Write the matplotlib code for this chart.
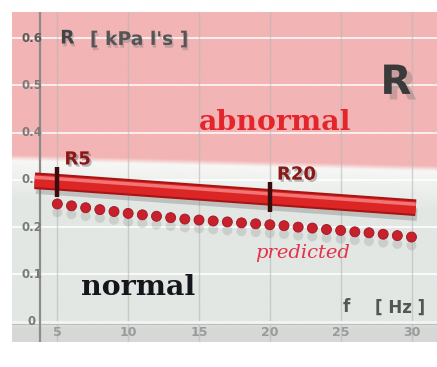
import matplotlib
matplotlib.use("Agg")
import matplotlib.pyplot as plt
import matplotlib.patheffects as pe
import numpy as np

# axis ticks
x_ticks = [5, 10, 15, 20, 25, 30]
y_ticks = [0.0, 0.1, 0.2, 0.3, 0.4, 0.5, 0.6]
y_tick_labels = ["0", "0.1", "0.2", "0.3", "0.4", "0.5", "0.6"]

# measured resistance R(f)
r_freq = [3.4, 5, 20, 30.3]
r_vals = [0.298, 0.295, 0.263, 0.241]
r_mark_freq = [5, 20]
r_mark_vals = [0.295, 0.263]
r_mark_names = ["R5", "R20"]

# predicted resistance, 1 Hz steps
pred_freq = list(range(5, 31))
pred_vals = [0.249, 0.245, 0.241, 0.237, 0.233, 0.229, 0.226, 0.223, 0.220,
             0.217, 0.215, 0.213, 0.211, 0.209, 0.207, 0.205, 0.203, 0.200,
             0.198, 0.195, 0.193, 0.190, 0.188, 0.185, 0.182, 0.179]

# upper limit of the normal range
limit_freq = [1.8, 31.8]
limit_vals = [0.345, 0.322]

XMIN, XMAX = 1.8, 31.8
YMIN, YMAX = -0.043, 0.655

fig = plt.figure(figsize=(4.37, 3.67), dpi=100, facecolor="white")
ax = fig.add_axes([12 / 437, 1 - 342 / 367, 425 / 437, 330 / 367])
ax.set_xlim(XMIN, XMAX)
ax.set_ylim(YMIN, YMAX)
ax.axis("off")

# background: pink abnormal zone, white transition, grey-green normal zone
nx, ny = 200, 300
gx = np.linspace(XMIN, XMAX, nx)
gy = np.linspace(YMIN, YMAX, ny)
GX, GY = np.meshgrid(gx, gy)
lim = np.interp(GX, limit_freq, limit_vals)
d = GY - lim
pink = np.array([242, 180, 180]) / 255
white = np.array([248, 248, 246]) / 255
grey = np.array([226, 231, 227]) / 255
floor = np.array([214, 216, 214]) / 255
t_p = np.clip((d + 0.004) / 0.012, 0, 1)[..., None]
t_g = np.clip(-d / 0.09, 0, 1)[..., None]
low = white * (1 - t_g) + grey * t_g
img = pink * t_p + low * (1 - t_p)
t_f = np.clip((-0.004 - GY) / 0.01, 0, 1)[..., None]
img = img * (1 - t_f) + floor * t_f
ax.imshow(img, extent=(XMIN, XMAX, YMIN, YMAX), origin="lower",
          aspect="auto", zorder=0, interpolation="bilinear")

# grid
for yv in y_ticks[1:]:
    ax.plot([XMIN, XMAX], [yv, yv], color="white", lw=1.3, alpha=0.85, zorder=1)
for xv in x_ticks:
    ax.plot([xv, xv], [YMIN, YMAX], color="#b8b8b8", lw=1.0, alpha=0.6, zorder=1)
ax.plot([XMIN, XMAX], [0, 0], color="#f4f4f4", lw=2.0, zorder=1)
ax.plot([XMIN, XMAX], [-0.004, -0.004], color="#bdbdbd", lw=0.8, zorder=1)
ax.plot([3.8, 3.8], [YMIN, YMAX], color="#8c8c8c", lw=1.6, zorder=1)

# tick labels
for yv, lab in zip(y_ticks, y_tick_labels):
    ax.text(3.2, yv, lab, ha="center", va="center", fontsize=8.5,
            fontweight="bold", color="#5a5a5a" if yv > 0.55 else "#7a7a7a", zorder=2)
for xv in x_ticks:
    ax.text(xv, -0.023, str(xv), ha="center", va="center", fontsize=9,
            fontweight="bold", color="#9a9a9a", zorder=2)

# axis titles
shadow = [pe.SimplePatchShadow(offset=(1, -2), shadow_rgbFace="#777777", alpha=0.35), pe.Normal()]
ax.text(5.2, 0.6, "R", ha="left", va="center", fontsize=13.5, fontweight="bold",
        color="#444444", zorder=3, path_effects=shadow)
ax.text(7.3, 0.597, "[ kPa l's ]", ha="left", va="center", fontsize=13.5,
        fontweight="bold", color="#555555", zorder=3, path_effects=shadow)
ax.text(25.4, 0.032, "f", ha="center", va="center", fontsize=12,
        fontweight="bold", color="#555555", zorder=3)
ax.text(29.2, 0.03, "[ Hz ]", ha="center", va="center", fontsize=12,
        fontweight="bold", color="#555555", zorder=3)

# big R
ax.text(28.9, 0.505, "R", ha="center", va="center", fontsize=29, fontweight="bold",
        color="#3a3a3a", zorder=3,
        path_effects=[pe.SimplePatchShadow(offset=(4, -4), shadow_rgbFace="#666666", alpha=0.3),
                      pe.Normal()])

# zone labels
ax.text(20.4, 0.421, "abnormal", ha="center", va="center", fontsize=20.5,
        fontweight="bold", family="DejaVu Serif", color="#e3262b", zorder=3)
ax.text(10.7, 0.072, "normal", ha="center", va="center", fontsize=20.5,
        fontweight="bold", family="DejaVu Serif", color="#15151c", zorder=3)

# predicted values
ax.plot(pred_freq, pred_vals, "o", ms=7.2, color="#c8202c", mec="#9a1a24",
        mew=0.6, zorder=4,
        path_effects=[pe.SimplePatchShadow(offset=(0, -6), shadow_rgbFace="#8a8a8a", alpha=0.25),
                      pe.Normal()])
ax.text(22.3, 0.146, "predicted", ha="center", va="center", fontsize=14,
        style="italic", family="DejaVu Serif", color="#e5304a", zorder=4)

# measured R line as a thick red bar
ax.plot(r_freq, r_vals, color="#dc2626", lw=9, solid_capstyle="butt", zorder=5,
        path_effects=[pe.SimpleLineShadow(offset=(1, -5), shadow_color="#777777", alpha=0.35),
                      pe.Stroke(linewidth=12, foreground="#a81414"),
                      pe.Normal(),
                      pe.Stroke(offset=(0, 2.5), linewidth=2.5, foreground="#f27474")])
ax.plot(r_mark_freq, r_mark_vals, "|", ms=22, mew=3.2, color="#3a0c0c", zorder=6)
for xv, yv, name in zip(r_mark_freq, r_mark_vals, r_mark_names):
    ax.text(xv + 0.5, yv + 0.048, name, ha="left", va="center", fontsize=13,
            fontweight="bold", color="#8a1818", zorder=6,
            path_effects=[pe.SimplePatchShadow(offset=(1.5, -1.5), shadow_rgbFace="#555555", alpha=0.4),
                          pe.Normal()])

fig.savefig("out.png", dpi=100, facecolor="white")
